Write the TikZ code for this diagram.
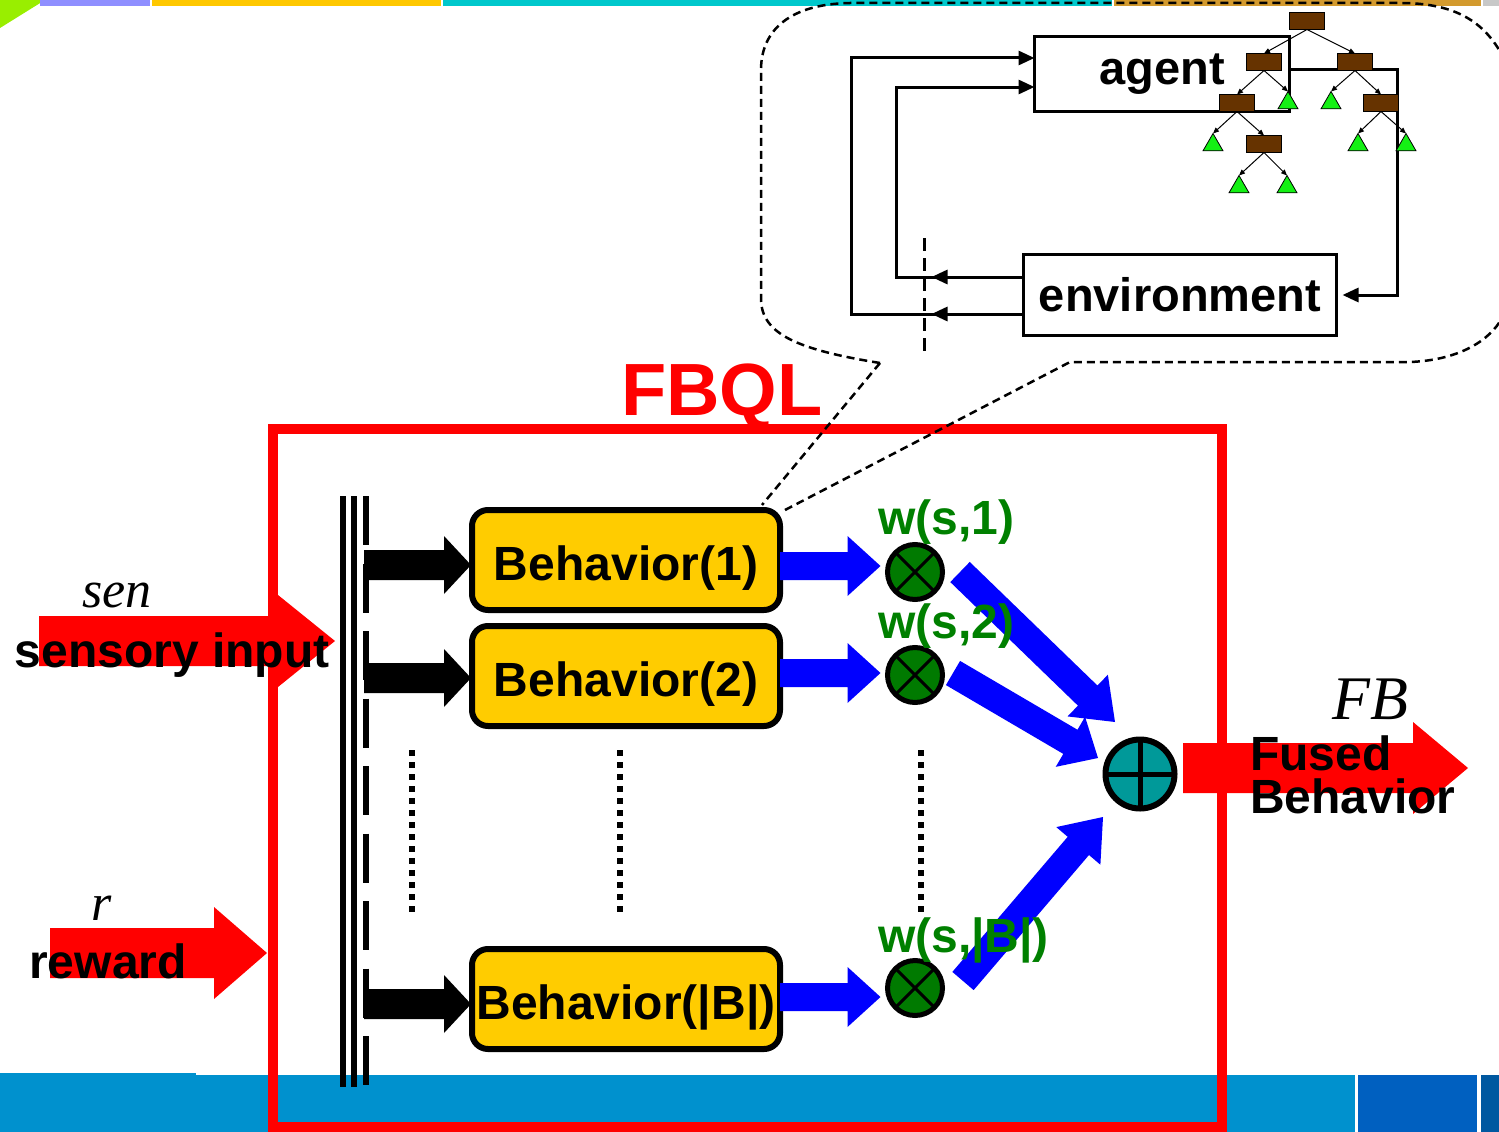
\documentclass[tikz,border=0pt]{standalone}
\usepackage{fontspec}
\setmainfont{Liberation Sans}
\newfontfamily\mathserif{Liberation Serif}
\usetikzlibrary{calc,arrows.meta,decorations.markings,shapes.geometric}

\definecolor{boxyellow}{RGB}{255,204,0}
\definecolor{wgreen}{RGB}{0,128,0}
\definecolor{mulgreen}{RGB}{0,122,0}
\definecolor{sumteal}{RGB}{0,153,153}
\definecolor{flowblue}{RGB}{0,0,255}
\definecolor{sigred}{RGB}{255,0,0}
\definecolor{treebrown}{RGB}{102,51,0}
\definecolor{leafgreen}{RGB}{20,240,20}
\definecolor{barblue}{RGB}{0,145,206}
\definecolor{barbluetwo}{RGB}{0,96,192}
\definecolor{barbluethree}{RGB}{0,88,160}
\definecolor{toplav}{RGB}{143,143,255}
\definecolor{topyellow}{RGB}{255,200,0}
\definecolor{topcyan}{RGB}{0,200,204}
\definecolor{toptan}{RGB}{211,154,46}
\definecolor{toplime}{RGB}{153,238,0}
\definecolor{topgrey}{RGB}{200,200,200}

% block arrow: #1 tail, #2 tip, #3 shaft half width, #4 head half width, #5 head length, #6 colour
\newcommand\blockarrow[6]{%
  \coordinate (bahead) at ($(#2)!#5!(#1)$);
  \fill[#6] ($(#1)!#3!90:(#2)$) -- ($(bahead)!#3!90:(#2)$) -- ($(bahead)!#4!90:(#2)$)
    -- (#2) -- ($(bahead)!#4!-90:(#2)$) -- ($(bahead)!#3!-90:(#2)$)
    -- ($(#1)!#3!-90:(#2)$) -- cycle;}

\begin{document}
\begin{tikzpicture}[x=1pt,y=-1pt,
  every node/.style={inner sep=0pt,outer sep=0pt},
  sanslabel/.style={font=\fontsize{48}{48}\selectfont\bfseries},
  behbox/.style={draw=black,line width=6pt,fill=boxyellow,rounded corners=16pt,
    minimum width=308pt,minimum height=100pt,sanslabel,text height=40pt,text depth=0pt},
  mult/.style={circle,draw=black,line width=5pt,fill=mulgreen,minimum size=55pt},
  sumnode/.style={circle,draw=black,line width=6pt,fill=sumteal,minimum size=69pt},
  plainbox/.style={draw=black,line width=3pt,font=\fontsize{47}{47}\selectfont\bfseries},
  loopline/.style={line width=3pt,-{Triangle[length=16pt,width=14pt]}},
  treenode/.style={draw=black,line width=0.8pt,fill=treebrown,minimum width=35pt,minimum height=17pt},
  treeleaf/.style={regular polygon,regular polygon sides=3,draw=black,line width=0.8pt,
    fill=leafgreen,minimum size=23pt},
  treeedge/.style={line width=1pt,-{Triangle[length=6pt,width=5pt]}},
  wlabel/.style={font=\fontsize{48}{48}\selectfont\bfseries,text=wgreen,anchor=base west},
  sym/.style={font=\mathserif\itshape,anchor=base},
  dotline/.style={line width=6pt,dash pattern=on 6pt off 6pt},
  callout/.style={line width=2.5pt,dash pattern=on 8pt off 5pt},
]
\useasboundingbox (0,0) rectangle (1499,1132);

% slide decoration: top strip and bottom band
\fill[toplime] (0,0) -- (45,0) -- (0,28) -- cycle;
\fill[toplav] (40,0) rectangle (150,6);
\fill[topyellow] (152,0) rectangle (441,6);
\fill[topcyan] (443,0) rectangle (1112,6);
\fill[toptan] (1114,0) rectangle (1481,6);
\fill[topgrey] (1483,0) rectangle (1499,6);
\fill[barblue] (0,1073) rectangle (196,1132);
\fill[barblue] (196,1075) rectangle (1355,1132);
\fill[barbluetwo] (1358,1075) rectangle (1477,1132);
\fill[barbluethree] (1481,1075) rectangle (1499,1132);

% FBQL frame
\draw[sigred,line width=10pt] (273,429) rectangle (1222,1127);
\node[text=sigred,font=\fontsize{74}{74}\selectfont\bfseries,anchor=base] (fbql) at (722,415) {FBQL};

% zoomed view of one behaviour
\draw[callout] (880,363) .. controls (800,350) and (762,335) .. (761,300) -- (761,70)
  .. controls (761,30) and (790,4) .. (850,3) -- (1400,3)
  .. controls (1450,3) and (1482,18) .. (1502,55);
\draw[callout] (880,363) -- (762,505);
\draw[callout] (785,510) -- (1070,362) -- (1410,362) .. controls (1460,360) and (1490,340) .. (1502,318);

\node[plainbox,minimum width=255pt,minimum height=75pt] (agent) at (1162,74) {agent};
\node[plainbox,minimum width=313pt,minimum height=81pt] (env) at (1180,295) {environment};

\draw[loopline,shorten >=6pt] ([yshift=4pt]agent.east) -- ++(108,0) |- (env.east);
\draw[loopline,postaction={decorate},
  decoration={markings,mark=at position 92pt with {\arrow{Triangle[length=16pt,width=14pt]}}}]
  ([yshift=18pt]env.west) -- ++(-127,0) |- ([yshift=-13pt]agent.west);
\draw[loopline,postaction={decorate},
  decoration={markings,mark=at position 92pt with {\arrow{Triangle[length=16pt,width=14pt]}}}]
  ([yshift=-19pt]env.west) -- ++(-172,0) |- ([yshift=16pt]agent.west);
\draw[line width=3pt,dash pattern=on 13pt off 7pt] (924,238) -- (924,358);

% decision tree
\node[treenode] (r0) at (1307,21) {};
\node[treenode] (r1) at (1264,62) {};
\node[treenode] (r2) at (1355,62) {};
\node[treenode] (r3) at (1237,103) {};
\node[treenode] (r4) at (1381,103) {};
\node[treenode] (r5) at (1264,144) {};
\node[treeleaf] (la) at (1288,103) {};
\node[treeleaf] (lb) at (1331,103) {};
\node[treeleaf] (lc) at (1213,145) {};
\node[treeleaf] (ld) at (1358,145) {};
\node[treeleaf] (le) at (1406,145) {};
\node[treeleaf] (lf) at (1239,187) {};
\node[treeleaf] (lg) at (1287,187) {};
\foreach \p/\c in {r0/r1,r0/r2,r1/r3,r2/r4,r3/r5}
  \draw[treeedge] (\p.south) -- (\c.north);
\foreach \p/\c in {r1/la,r2/lb,r3/lc,r4/ld,r4/le,r5/lf,r5/lg}
  \draw[treeedge] (\p.south) -- (\c.corner 1);

% input bus
\draw[line width=6pt] (343,496) -- (343,1087);
\draw[line width=6pt] (354,496) -- (354,1087);
\draw[line width=6pt,dash pattern=on 49pt off 18.5pt] (366,496) -- (366,1087);

% behaviours
\node[behbox] (b1) at (626,560) {Behavior(1)};
\node[behbox] (b2) at (626,676) {Behavior(2)};
\node[behbox] (b3) at (626,999) {Behavior(|B|)};

\coordinate (in1) at (364,565);
\coordinate (in2) at (364,678);
\coordinate (in3) at (364,1004);
\coordinate (bin1) at ([xshift=-1pt,yshift=-5pt]b1.west);
\coordinate (bin2) at ([xshift=-1pt,yshift=-2pt]b2.west);
\coordinate (bin3) at ([xshift=-1pt,yshift=-5pt]b3.west);
\blockarrow{in1}{bin1}{15pt}{29pt}{27pt}{black}
\blockarrow{in2}{bin2}{15pt}{29pt}{27pt}{black}
\blockarrow{in3}{bin3}{15pt}{29pt}{27pt}{black}

% weighting nodes
\node[mult] (c1) at (915,572) {};
\node[mult] (c2) at (915,675) {};
\node[mult] (c3) at (915,988) {};
\foreach \c in {c1,c2,c3}{
  \draw[line width=3pt] (\c.45) -- (\c.225);
  \draw[line width=3pt] (\c.135) -- (\c.315);
}
\coordinate (bo1) at ([yshift=-6pt]b1.east);
\coordinate (bo2) at ([yshift=3pt]b2.east);
\coordinate (bo3) at ([yshift=2pt]b3.east);
\coordinate (ci1) at ([xshift=-7pt,yshift=6pt]c1.west);
\coordinate (ci2) at ([xshift=-7pt,yshift=2pt]c2.west);
\coordinate (ci3) at ([xshift=-7pt,yshift=-9pt]c3.west);
\blockarrow{bo1}{ci1}{14pt}{30pt}{33pt}{flowblue}
\blockarrow{bo2}{ci2}{14pt}{30pt}{33pt}{flowblue}
\blockarrow{bo3}{ci3}{14pt}{30pt}{33pt}{flowblue}

% fusion node
\node[sumnode] (sum) at (1140,774) {};
\draw[line width=5pt] (sum.north) -- (sum.south);
\draw[line width=5pt] (sum.west) -- (sum.east);

\coordinate (ct1) at (960,572);
\coordinate (ct2) at (953,673);
\coordinate (ct3) at (963,981);
\coordinate (st1) at (1115,722);
\coordinate (st2) at (1098,758);
\coordinate (st3) at (1103,817);
\blockarrow{ct1}{st1}{14pt}{29pt}{38pt}{flowblue}
\blockarrow{ct2}{st2}{14pt}{29pt}{32pt}{flowblue}
\blockarrow{ct3}{st3}{14pt}{29pt}{38pt}{flowblue}

% omitted behaviours
\draw[dotline] (412,750) -- (412,912);
\draw[dotline] (620,750) -- (620,912);
\draw[dotline] (921,750) -- (921,912);

% weights
\node[wlabel] (w1) at (878,534) {w(s,1)};
\node[wlabel] (w2) at (878,638) {w(s,2)};
\node[wlabel] (w3) at (878,952) {w(s,|B|)};

% signals in and out
\coordinate (sentail) at (39,641);
\coordinate (sentip) at (335,641);
\coordinate (rwtail) at (50,953);
\coordinate (rwtip) at (267,953);
\coordinate (fbtail) at (1183,768);
\coordinate (fbtip) at (1468,768);
\blockarrow{sentail}{sentip}{25pt}{46pt}{57pt}{sigred}
\blockarrow{rwtail}{rwtip}{25pt}{46pt}{53pt}{sigred}
\blockarrow{fbtail}{fbtip}{25pt}{46pt}{55pt}{sigred}

\node[sym,font=\fontsize{52}{52}\selectfont\mathserif\itshape] (sen) at (117,607) {sen};
\node[sanslabel,anchor=base] (sentext) at (172,667) {sensory input};
\node[sym,font=\fontsize{52}{52}\selectfont\mathserif\itshape] (rsym) at (102,920) {r};
\node[sanslabel,anchor=base] (rwtext) at (108,978) {reward};
\node[sym,font=\fontsize{62}{62}\selectfont\mathserif\itshape] (fbsym) at (1370,719) {FB};
\node[anchor=base west,align=left,font=\fontsize{48}{43}\selectfont\bfseries] (fbtext) at (1250,813) {Fused\\Behavior};
\end{tikzpicture}
\end{document}
